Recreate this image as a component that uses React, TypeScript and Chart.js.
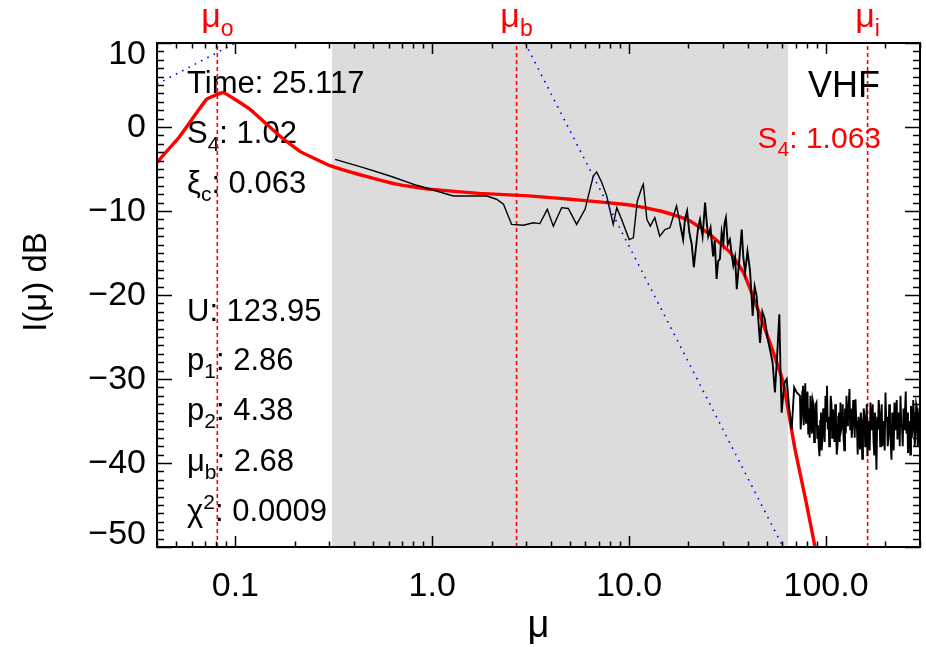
import { useEffect, useRef } from "react";
import { Chart, registerables } from "chart.js";

Chart.register(...registerables);

const FONT = "'Liberation Sans', Arial, Helvetica, sans-serif";

// Axis ranges and ticks
const X_RANGE = [0.04, 300];
const Y_RANGE = [-50, 10];
const xMajorTicks = [0.1, 1, 10, 100];
const xTickLabels = ["0.1", "1.0", "10.0", "100.0"];
const yMajorTicks = [10, 0, -10, -20, -30, -40, -50];
const yTickLabels = ["10", "0", "\u221210", "\u221220", "\u221230", "\u221240", "\u221250"];

// Shaded fitting range
const shadedRange = [0.31, 64];

// Vertical marker positions and their subscripts
const markerMu = [0.081, 2.68, 162.6];
const markerSubs = ["o", "b", "i"];

// Measured spectrum (black): main part
const specMu = [
  0.321, 0.447, 0.61, 0.834, 1.28, 1.89, 2.12, 2.3, 2.53, 2.9, 3.26, 3.52, 3.84, 4.12, 4.54, 4.91,
  5.41, 5.97, 6.33, 6.58, 6.84, 7.26, 7.69, 8.3, 8.65, 9.16, 10.0, 10.5, 11.0, 11.6, 11.8, 12.3,
  12.8, 13.5, 14.3, 15.2, 16.1, 17.4, 18.1,
  18.8, 19.2, 19.7, 20.2, 20.8, 21.3, 21.8, 22.4, 22.9, 23.6, 24.3, 24.8, 25.2, 25.9, 26.7, 27.2,
  27.8, 28.3, 28.9, 29.5, 30.1, 30.5, 31.0, 31.7, 32.5, 33.1, 33.8, 34.5, 35.2, 36.2, 37.3, 38.0,
  38.8, 39.9, 41.1, 41.7, 42.4, 43.4, 44.4, 45.3, 46.2, 47.5, 48.9, 50.3, 51.9, 53.5, 55.0, 56.5,
  57.9, 58.7, 59.5, 61.3, 63.1, 65.0, 66.9, 68.9, 71.0,
];
const specDb = [
  -3.85, -4.83, -5.83, -6.94, -8.21, -8.21, -8.6, -9.2, -11.6, -11.7, -11.4, -11.5, -9.8, -11.8,
  -9.6, -9.7, -11.6, -9.8, -7.4, -5.8, -5.36, -6.6, -8.2, -11.6, -9.6, -11.0, -13.4, -13.2, -8.8,
  -7.2, -6.8, -11.0, -11.8, -10.8, -13.0, -12.2, -12.0, -9.4, -11.4,
  -13.4, -11.0, -10.0, -12.5, -14.0, -16.7, -14.5, -12.0, -11.0, -13.0, -9.0, -11.5, -13.0, -12.0,
  -15.4, -13.5, -18.1, -16.0, -15.7, -12.5, -13.8, -11.5, -10.8, -14.0, -13.4, -15.0, -16.5, -15.5,
  -19.3, -16.0, -12.2, -15.5, -17.3, -14.8, -17.1, -19.5, -22.5, -19.0, -20.1, -23.0, -25.7, -22.0,
  -22.9, -25.0, -26.5, -28.0, -31.6, -27.0, -22.3, -29.0, -34.0, -30.5, -30.0, -33.5, -36.0, -31.0,
  -31.6,
];

// Measured spectrum (black): noise floor
const floorMu = [
  73.7, 74.3, 75.0, 75.7, 76.3, 77.0, 77.7, 78.4, 79.1, 79.8, 80.5, 81.2, 81.9, 82.6, 83.3, 84.0,
  84.8, 85.5, 86.3, 87.0, 87.8, 88.6, 89.4, 90.2, 91.0, 91.8, 92.6, 93.4, 94.2, 95.0, 95.9, 96.7,
  97.6, 98.4, 99.3, 100.2, 101.1, 102.0, 102.9, 103.8, 104.7, 105.6, 106.5, 107.4, 108.4, 109.3,
  110.3, 111.3, 112.3, 113.3, 114.3, 115.3, 116.3, 117.3, 118.4, 119.4, 120.5, 121.5, 122.6, 123.7,
  124.8, 125.9, 127.0, 128.1, 129.2, 130.3, 131.5, 132.6, 133.8, 135.0, 136.2, 137.4, 138.6, 139.8,
  141.1, 142.3, 143.6, 144.8, 146.1, 147.4, 148.7, 150.0, 151.3, 152.6, 154.0, 155.3, 156.7, 158.1,
  159.5, 160.9, 162.3, 163.7, 165.2, 166.6, 168.1, 169.6, 171.1, 172.6, 174.1, 175.6, 177.2, 178.7,
  180.3, 181.9, 183.5, 185.1, 186.8, 188.4, 190.1, 191.7, 193.4, 195.1, 196.8, 198.5, 200.3, 202.1,
  203.9, 205.7, 207.5, 209.3, 211.2, 213.0, 214.9, 216.8, 218.7, 220.6, 222.6, 224.5, 226.5, 228.5,
  230.5, 232.5, 234.6, 236.7, 238.8, 240.9, 243.0, 245.1, 247.3, 249.5, 251.7, 253.9, 256.2, 258.4,
  260.7, 263.0, 265.3, 267.6, 270.0, 272.4, 274.8, 277.2, 279.7, 282.1, 284.6, 287.1, 289.7, 292.2,
  294.8, 297.4, 300.0,
];
const floorDb = [
  -32.0, -36.0, -34.5, -31.5, -30.8, -35.5, -33.0, -30.5, -35.2, -33.0, -31.5, -36.5, -33.5, -37.0,
  -32.0, -34.0, -36.5, -32.5, -33.0, -37.5, -36.0, -33.0, -32.8, -37.0, -35.5, -38.0, -39.2, -35.0,
  -34.0, -38.5, -37.0, -33.5, -35.6, -37.5, -32.0, -35.0, -30.8, -36.0, -34.5, -38.0, -36.4, -32.0,
  -33.0, -37.0, -33.6, -35.5, -37.5, -33.0, -35.0, -39.0, -38.0, -34.5, -34.0, -37.5, -32.8, -36.0,
  -35.5, -33.0, -36.8, -38.5, -33.5, -36.5, -32.0, -35.5, -35.0, -33.0, -31.2, -36.0, -33.5, -37.0,
  -35.6, -32.5, -33.8, -37.0, -32.4, -35.0, -36.0, -39.0, -34.5, -36.5, -38.4, -34.0, -35.0, -39.5,
  -37.0, -33.5, -34.4, -38.0, -36.5, -33.0, -39.2, -36.0, -35.0, -38.5, -32.8, -36.0, -35.5, -33.0,
  -37.2, -39.0, -34.0, -37.0, -40.8, -34.5, -36.0, -32.5, -34.0, -38.0, -36.5, -33.0, -38.0, -35.5,
  -35.0, -38.5, -31.6, -35.0, -34.5, -38.0, -36.8, -33.0, -35.0, -37.5, -39.6, -34.0, -36.5, -38.5,
  -32.8, -36.0, -35.0, -32.5, -37.2, -34.5, -34.0, -38.0, -32.0, -35.5, -35.6, -38.0, -33.5, -36.0,
  -34.0, -31.5, -36.5, -34.0, -38.8, -36.0, -35.0, -39.0, -33.2, -37.0, -36.0, -32.5, -34.5, -38.0,
  -36.4, -33.0, -33.5, -38.0, -37.0, -34.0, -35.5,
];

// Model fit (red)
const fitMu = [
  0.04, 0.0523, 0.0715, 0.0869, 0.1187, 0.1686, 0.213, 0.303, 0.447, 0.656, 0.97, 1.73, 3.09, 4.46,
  5.63, 9.33, 11.4, 14.4, 18.1, 20.4, 25.7, 32.5, 38, 44.4, 51.9, 60.6, 69.6, 79, 87.9, 95,
];
const fitDb = [
  -4.2, -1.1, 3.3, 4.1, 2.1, -1.1, -2.9, -4.6, -5.8, -6.8, -7.4, -7.9, -8.2, -8.5, -8.7, -9.2, -9.5,
  -10.0, -10.7, -11.2, -12.8, -14.9, -17.3, -21.3, -25.7, -30.4, -38.4, -44.5, -50, -54,
];

// Asymptotic power-law slopes (blue dotted)
const slope1Mu = [0.04, 0.1];
const slope1Db = [5.1, 10];
const slope2Mu = [2.96, 60.5];
const slope2Db = [10, -50];

// Annotation text
type Part = { t: string; sub?: boolean; sup?: boolean };
const infoLines: Part[][] = [
  [{ t: "Time: 25.117" }],
  [{ t: "S" }, { t: "4", sub: true }, { t: ": 1.02" }],
  [{ t: "\u03be" }, { t: "c", sub: true }, { t: ": 0.063" }],
  [{ t: "U: 123.95" }],
  [{ t: "p" }, { t: "1", sub: true }, { t: ": 2.86" }],
  [{ t: "p" }, { t: "2", sub: true }, { t: ": 4.38" }],
  [{ t: "\u03bc" }, { t: "b", sub: true }, { t: ": 2.68" }],
  [{ t: "\u03c7" }, { t: "2", sup: true }, { t: ": 0.0009" }],
];
const infoBaselines = [93, 143, 193, 321, 370, 420, 471, 521];
const bandLabel = "VHF";
const rightS4: Part[] = [{ t: "S" }, { t: "4", sub: true }, { t: ": 1.063" }];

function pts(xs: number[], ys: number[]) {
  return xs.map((x, i) => ({ x, y: ys[i] }));
}

function drawParts(
  ctx: CanvasRenderingContext2D,
  parts: Part[],
  x: number,
  y: number,
  size: number,
  subSize: number,
  color: string,
  align: "left" | "right" | "center"
) {
  ctx.save();
  ctx.fillStyle = color;
  ctx.textBaseline = "alphabetic";
  ctx.textAlign = "left";
  let w = 0;
  const widths = parts.map((p) => {
    ctx.font = `${p.sub || p.sup ? subSize : size}px ${FONT}`;
    const m = ctx.measureText(p.t).width;
    w += m;
    return m;
  });
  let cx = align === "right" ? x - w : align === "center" ? x - w / 2 : x;
  parts.forEach((p, i) => {
    ctx.font = `${p.sub || p.sup ? subSize : size}px ${FONT}`;
    const dy = p.sub ? size * 0.27 : p.sup ? -size * 0.38 : 0;
    ctx.fillText(p.t, cx, y + dy);
    cx += widths[i];
  });
  ctx.restore();
}

const decorPlugin = {
  id: "decor",
  beforeDatasetsDraw(chart: any) {
    const { ctx, chartArea, scales } = chart;
    const xs = scales.x;
    ctx.save();
    ctx.fillStyle = "#dcdcdc";
    const x0 = xs.getPixelForValue(shadedRange[0]);
    const x1 = xs.getPixelForValue(shadedRange[1]);
    ctx.fillRect(x0, chartArea.top, x1 - x0, chartArea.bottom - chartArea.top);
    ctx.restore();

    infoLines.forEach((line, i) => {
      drawParts(ctx, line, 187, infoBaselines[i], 31, 21, "#000", "left");
    });
    drawParts(ctx, [{ t: bandLabel }], 880, 97, 36, 24, "#000", "right");
    drawParts(ctx, rightS4, 881, 148, 30, 21, "#ff0000", "right");
  },
  afterDatasetsDraw(chart: any) {
    const { ctx, chartArea, scales } = chart;
    const xs = scales.x;
    const ys = scales.y;
    const { left, right, top, bottom } = chartArea;
    ctx.save();
    ctx.strokeStyle = "#000";
    ctx.lineWidth = 1.5;
    ctx.beginPath();
    // x ticks (major + minor), top and bottom, inward
    for (let d = -2; d <= 2; d++) {
      for (let k = 1; k <= 9; k++) {
        const v = k * Math.pow(10, d);
        if (v < X_RANGE[0] || v > X_RANGE[1]) continue;
        const px = Math.round(xs.getPixelForValue(v)) + 0.5;
        const len = k === 1 ? 11 : 5.5;
        ctx.moveTo(px, bottom);
        ctx.lineTo(px, bottom - len);
        ctx.moveTo(px, top);
        ctx.lineTo(px, top + len);
      }
    }
    // y ticks
    for (let v = Y_RANGE[0]; v <= Y_RANGE[1]; v++) {
      const py = Math.round(ys.getPixelForValue(v)) + 0.5;
      const len = v % 10 === 0 ? 15 : 7;
      ctx.moveTo(left, py);
      ctx.lineTo(left + len, py);
      ctx.moveTo(right, py);
      ctx.lineTo(right - len, py);
    }
    ctx.stroke();
    ctx.lineWidth = 2;
    ctx.strokeRect(left, top, right - left, bottom - top);

    // tick labels
    ctx.fillStyle = "#000";
    ctx.font = `34px ${FONT}`;
    ctx.textAlign = "center";
    ctx.textBaseline = "alphabetic";
    xMajorTicks.forEach((v, i) => {
      ctx.fillText(xTickLabels[i], xs.getPixelForValue(v), 596);
    });
    ctx.textAlign = "right";
    ctx.textBaseline = "middle";
    yMajorTicks.forEach((v, i) => {
      let py = ys.getPixelForValue(v);
      py = Math.min(Math.max(py, top + 11), bottom - 13);
      ctx.fillText(yTickLabels[i], 146, py + 1);
    });

    // axis titles
    drawParts(ctx, [{ t: "\u03bc" }], (left + right) / 2, 637, 38, 24, "#000", "center");
    ctx.save();
    ctx.translate(34, 282);
    ctx.rotate(-Math.PI / 2);
    drawParts(ctx, [{ t: "I(\u03bc) dB" }], 0, 12, 33, 22, "#000", "center");
    ctx.restore();

    // marker labels
    markerMu.forEach((m, i) => {
      const px = xs.getPixelForValue(m);
      drawParts(ctx, [{ t: "\u03bc" }, { t: markerSubs[i], sub: true }], px, 27, 34, 23, "#ff0000", "center");
    });
    ctx.restore();
  },
};

export default function App() {
  const ref = useRef<HTMLCanvasElement>(null);
  useEffect(() => {
    if (!ref.current) return;
    const markerSets = markerMu.map((m) => ({
      data: [
        { x: m, y: Y_RANGE[0] },
        { x: m, y: Y_RANGE[1] },
      ],
      borderColor: "#ff0000",
      borderWidth: 1.6,
      borderDash: [4, 3],
      pointRadius: 0,
      clip: 0,
    }));
    const spectrum = pts(specMu, specDb).concat(pts(floorMu, floorDb));
    const chart = new Chart(ref.current, {
      type: "line",
      data: {
        datasets: [
          {
            data: pts(slope1Mu, slope1Db),
            borderColor: "#0000ff",
            borderWidth: 1.6,
            borderDash: [1.6, 5.5],
            pointRadius: 0,
            clip: 0,
          },
          {
            data: pts(slope2Mu, slope2Db),
            borderColor: "#0000ff",
            borderWidth: 1.6,
            borderDash: [1.6, 5.5],
            pointRadius: 0,
            clip: 0,
          },
          {
            data: spectrum,
            borderColor: "#000000",
            borderWidth: 1.5,
            segment: {
              borderWidth: (c: any) => (c.p0.parsed.x > 18 ? 1.9 : 1.4),
            },
            pointRadius: 0,
            tension: 0,
            clip: 0,
          },
          {
            data: pts(fitMu, fitDb),
            borderColor: "#ff0000",
            borderWidth: 3.4,
            pointRadius: 0,
            tension: 0.1,
            clip: 0,
          },
          ...markerSets,
        ] as any,
      },
      options: {
        animation: false,
        responsive: false,
        devicePixelRatio: 1,
        layout: { padding: { left: 157, right: 6, top: 43, bottom: 100 } },
        plugins: { legend: { display: false }, tooltip: { enabled: false } },
        scales: {
          x: { type: "logarithmic", min: X_RANGE[0], max: X_RANGE[1], display: false },
          y: { type: "linear", min: Y_RANGE[0], max: Y_RANGE[1], display: false },
        },
      } as any,
      plugins: [decorPlugin],
    });
    return () => chart.destroy();
  }, []);
  return (
    <div style={{ position: "fixed", left: 0, top: 0, width: 926, height: 647, background: "#fff" }}>
      <canvas ref={ref} width={926} height={647} style={{ width: 926, height: 647, display: "block" }} />
    </div>
  );
}
